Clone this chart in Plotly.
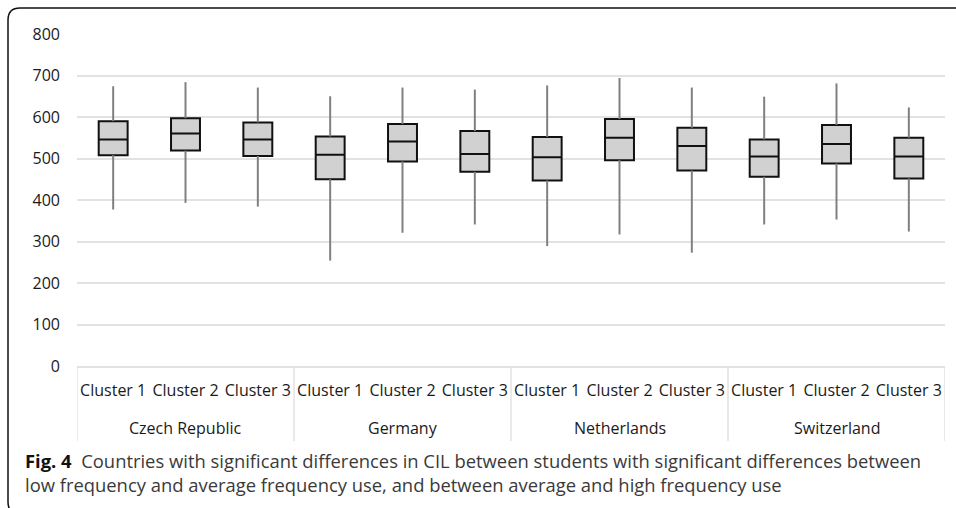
import plotly.graph_objects as go

# CIL score distributions per country and usage cluster
countries = ["Czech Republic", "Germany", "Netherlands", "Switzerland"]
clusters = ["Cluster 1", "Cluster 2", "Cluster 3"]

whisker_low = [377, 393, 384, 254, 321, 341, 289, 317, 273, 341, 353, 324]
q1 = [508, 519, 506, 450, 493, 468, 447, 496, 471, 456, 488, 452]
median = [546, 560, 546, 509, 541, 511, 503, 550, 530, 505, 535, 505]
q3 = [590, 597, 587, 553, 583, 566, 552, 595, 574, 546, 581, 550]
whisker_high = [674, 684, 671, 650, 671, 666, 676, 694, 671, 649, 681, 623]

y_ticks = [0, 100, 200, 300, 400, 500, 600, 700, 800]

caption_bold = "Fig. 4"
caption_text = ("Countries with significant differences in CIL between students with "
                "significant differences between<br>low frequency and average frequency "
                "use, and between average and high frequency use")

n_groups, n_clusters = len(countries), len(clusters)
x_pos = list(range(n_groups * n_clusters))
x_labels = [k for _ in countries for k in clusters]

TICK_FONT = dict(family="Open Sans", size=16, color="#1a1a1a")
GRID = "#e2e2e2"

# whiskers: two segments per box, split by gaps
wx, wy = [], []
for x, lo, a, b, hi in zip(x_pos, whisker_low, q1, q3, whisker_high):
    wx += [x, x, None, x, x, None]
    wy += [lo, a, None, b, hi, None]

fig = go.Figure()
fig.add_trace(go.Scatter(
    x=wx, y=wy, mode="lines",
    line=dict(color="#808080", width=2),
    showlegend=False, hoverinfo="skip",
))
fig.add_trace(go.Box(
    x=x_pos,
    q1=q1, median=median, q3=q3,
    lowerfence=q1, upperfence=q3,
    fillcolor="#d0d1d0",
    line=dict(color="#111111", width=2),
    width=0.4, whiskerwidth=0,
    showlegend=False,
))

# pixel geometry of the plotting area
L, T, R, B = 77.0, 34.0, 945.0, 366.0
W, H = 956, 508


def px(x):
    return (x - L) / (R - L)


def py(y):
    return (B - y) / (B - T)


# group dividers below the axis and country names
for g in range(n_groups + 1):
    xd = g * n_clusters - 0.5
    fig.add_shape(type="line", xref="x", yref="paper",
                  x0=xd, x1=xd, y0=py(B), y1=py(441),
                  line=dict(color=GRID, width=1.5))
for g, name in enumerate(countries):
    fig.add_annotation(x=g * n_clusters + (n_clusters - 1) / 2, y=py(428),
                       xref="x", yref="paper", yanchor="middle",
                       text=name, showarrow=False, font=TICK_FONT)

# page frame with rounded left corners
r = 12
frame = (f"M {px(960)} {py(8)} L {px(8 + r)} {py(8)} "
         f"Q {px(8)} {py(8)} {px(8)} {py(8 + r)} "
         f"L {px(8)} {py(514 - r)} Q {px(8)} {py(514)} {px(8 + r)} {py(514)} "
         f"L {px(960)} {py(514)}")
fig.add_shape(type="path", path=frame, xref="paper", yref="paper",
              line=dict(color="#111111", width=1.5), layer="above")

fig.add_annotation(
    x=px(23), y=py(472), xref="paper", yref="paper",
    xanchor="left", yanchor="middle", align="left", showarrow=False,
    text=f"<b>{caption_bold}</b>  <span style='color:#3a3a3a'>{caption_text}</span>",
    font=dict(family="Open Sans", size=18.4, color="#111111"),
)

fig.update_layout(
    width=W, height=H,
    margin=dict(l=L, r=W - R, t=T, b=H - B),
    paper_bgcolor="white", plot_bgcolor="white",
    xaxis=dict(
        range=[-0.5, len(x_pos) - 0.5],
        tickvals=x_pos, ticktext=x_labels,
        showline=True, linecolor=GRID, linewidth=1.5,
        showgrid=False, zeroline=False, ticks="",
        ticklabelstandoff=9, tickfont=TICK_FONT,
    ),
    yaxis=dict(
        range=[0, 800], tickvals=y_ticks, ticktext=[str(v) for v in y_ticks],
        showgrid=True, gridcolor=GRID, gridwidth=1.5,
        zeroline=False, showline=False, ticks="",
        ticklabelstandoff=16, tickfont=TICK_FONT,
    ),
)

fig.write_html("out.html")
